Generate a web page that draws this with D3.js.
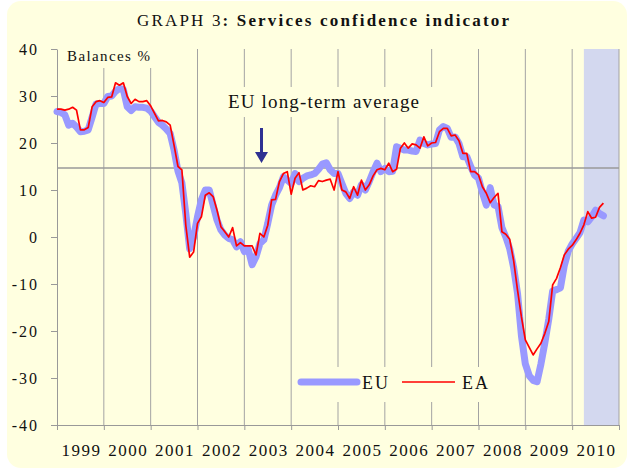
<!DOCTYPE html>
<html>
<head>
<meta charset="utf-8">
<script src="https://cdn.jsdelivr.net/npm/d3@7"></script>
<style>
  html, body { margin: 0; padding: 0; background: #fff; }
  svg { display: block; }
  svg text { font-family: "Liberation Serif", "Times New Roman", Times, serif; }
</style>
</head>
<body>
<script>
// year labels on the x axis (one block of 12 months each)
const years = ["1999", "2000", "2001", "2002", "2003", "2004", "2005", "2006", "2007", "2008", "2009", "2010"];
const yTicks = [-40, -30, -20, -10, 0, 10, 20, 30, 40];

// monthly balances, Jan 1999 .. Sep 2010
const euValues = [
  26.7, 26.5, 26.0, 23.8, 24.2, 23.4, 22.4, 22.5, 22.8, 25.5, 28.3, 28.4,   // 1999
  28.4, 29.9, 30.0, 31.0, 31.6, 31.4, 27.7, 26.9, 27.7, 27.6, 27.6, 27.4,   // 2000
  26.8, 25.6, 24.4, 23.8, 23.0, 22.0, 18.5, 14.0, 11.5, 5.0, -2.5, 0.0,     // 2001
  4.3, 7.9, 10.0, 10.0, 6.8, 3.6, 1.5, 0.4, -0.3, -0.6, -2.1, -1.0,         // 2002
  -3.1, -2.6, -5.9, -4.2, -1.4, -0.6, 2.9, 6.8, 8.9, 10.5, 12.8, 12.1,      // 2003
  11.4, 13.5, 11.8, 12.5, 13.0, 13.2, 13.5, 14.4, 15.5, 15.8, 14.3, 13.5,   // 2004
  13.5, 11.4, 9.3, 8.2, 9.6, 8.9, 11.1, 10.0, 11.8, 13.9, 15.7, 13.9,       // 2005
  14.6, 13.9, 14.0, 19.2, 18.9, 18.5, 18.5, 18.3, 18.2, 20.6, 19.9, 19.6,   // 2006
  19.8, 19.9, 22.8, 23.5, 23.1, 21.2, 21.3, 19.9, 17.1, 17.1, 15.0, 13.2,   // 2007
  12.5, 9.5, 6.8, 10.5, 6.8, 6.5, 2.0, 0.0, -2.5, -6.5, -12.0, -21.0,       // 2008
  -27.0, -29.5, -30.5, -30.8, -27.0, -22.5, -17.5, -11.5, -11.2, -10.8, -6.0, -3.0, // 2009
  -1.5, -0.3, 0.9, 3.6, 3.2, 4.3, 5.7, 5.0, 4.5                             // 2010
];
const eaValues = [
  27.2, 27.2, 27.0, 27.2, 27.6, 27.0, 22.8, 22.8, 23.3, 27.7, 28.8, 29.0,   // 1999
  28.6, 29.7, 29.8, 32.8, 32.3, 32.8, 29.9, 28.4, 29.3, 28.8, 28.8, 29.0,   // 2000
  27.9, 26.3, 24.7, 24.8, 24.5, 23.8, 19.5, 15.0, 14.3, 2.5, -4.3, -3.2,    // 2001
  2.9, 4.3, 8.9, 9.4, 8.6, 5.7, 2.2, 1.1, 0.0, 2.0, -1.9, -1.2,             // 2002
  -1.9, -1.9, -1.9, -3.8, 0.8, 0.0, 2.5, 7.9, 8.0, 11.8, 13.5, 13.9,        // 2003
  9.1, 12.5, 13.7, 10.0, 10.4, 10.9, 10.7, 12.0, 11.8, 12.1, 12.3, 10.0,    // 2004
  13.9, 10.0, 9.6, 8.2, 10.7, 8.9, 12.1, 10.0, 11.1, 13.0, 14.3, 14.6,      // 2005
  14.3, 15.7, 13.9, 14.4, 18.9, 20.0, 18.9, 19.8, 19.6, 18.9, 21.3, 19.4,   // 2006
  20.0, 20.1, 22.4, 23.1, 23.1, 21.5, 21.7, 20.5, 17.8, 17.8, 13.9, 13.9,   // 2007
  13.2, 10.7, 9.3, 7.3, 8.4, 9.3, 1.1, 0.6, -0.5, -5.0, -11.3, -17.0,       // 2008
  -21.9, -23.5, -25.1, -23.8, -22.6, -20.5, -18.0, -10.2, -8.8, -6.5, -3.8, -2.6, // 2009
  -1.8, -0.6, 0.8, 2.6, 5.4, 4.0, 4.2, 6.3, 7.2                             // 2010
];
const longTermAverage = 14.7;
const shadeFrom = 135; // month index (Apr 2010)

const W = 631, H = 470;
const bg = "#FFFFE0";
const grid = "#A3A3A3";

const svg = d3.select("body").append("svg")
    .attr("width", W)
    .attr("height", H);

// rounded background panel
svg.append("rect")
    .attr("x", 7).attr("y", 1)
    .attr("width", 620).attr("height", 467)
    .attr("rx", 14)
    .attr("fill", bg);

const x = d3.scaleLinear().domain([0, years.length * 12]).range([57, 619]);
const y = d3.scaleLinear().domain([-40, 40]).range([425, 49]);

// shaded last part
svg.append("rect")
    .attr("x", x(shadeFrom))
    .attr("y", y(40))
    .attr("width", x(years.length * 12) - x(shadeFrom))
    .attr("height", y(-40) - y(40))
    .attr("fill", "#D3D8EF");

// vertical year gridlines
svg.append("g")
    .selectAll("line")
    .data(d3.range(12, years.length * 12 + 1, 12))
    .enter().append("line")
    .attr("x1", d => x(d)).attr("x2", d => x(d))
    .attr("y1", y(40)).attr("y2", y(-40))
    .attr("stroke", grid)
    .attr("stroke-width", 1);

// boxes behind the texts hide the gridlines
svg.append("rect").attr("x", 58).attr("y", 48).attr("width", 102).attr("height", 20).attr("fill", bg);
svg.append("rect").attr("x", 210).attr("y", 87).attr("width", 230).attr("height", 30).attr("fill", bg);
svg.append("rect").attr("x", 294).attr("y", 367).attr("width", 200).attr("height", 35).attr("fill", bg);

// long-term average
svg.append("line")
    .attr("x1", x(0)).attr("x2", x(years.length * 12))
    .attr("y1", y(longTermAverage)).attr("y2", y(longTermAverage))
    .attr("stroke", "#9A9A9A")
    .attr("stroke-width", 1.5);

// axes
const yAxis = svg.append("g")
    .attr("transform", `translate(${x(0)},0)`)
    .call(d3.axisLeft(y).tickValues(yTicks).tickSize(6).tickSizeOuter(0).tickPadding(12).tickFormat(d => String(d)))
    .attr("font-family", null)
    .attr("font-size", 16);
yAxis.select(".domain").attr("stroke", "#999");
yAxis.selectAll(".tick line").attr("stroke", "#999");
yAxis.selectAll(".tick text").attr("fill", "#111").attr("letter-spacing", "2px");

const xAxis = svg.append("g")
    .attr("transform", `translate(0,${y(-40)})`)
    .call(d3.axisBottom(x).tickValues(d3.range(0, years.length * 12 + 1, 12)).tickSize(5).tickSizeOuter(0).tickFormat(""));
xAxis.select(".domain").attr("stroke", "#999");
xAxis.selectAll(".tick line").attr("stroke", "#999");

svg.append("g")
    .selectAll("text")
    .data(years)
    .enter().append("text")
    .attr("x", (d, i) => x(i * 12 + 6) + 1)
    .attr("y", 456)
    .attr("text-anchor", "middle")
    .attr("font-size", 17)
    .attr("letter-spacing", "1.5px")
    .attr("fill", "#111")
    .text(d => d);

// series
const line = d3.line()
    .x((d, i) => x(i))
    .y(d => y(d));

svg.append("path")
    .datum(euValues)
    .attr("d", line)
    .attr("fill", "none")
    .attr("stroke", "#9999FF")
    .attr("stroke-width", 7)
    .attr("stroke-linejoin", "round")
    .attr("stroke-linecap", "round");

svg.append("path")
    .datum(eaValues)
    .attr("d", line)
    .attr("fill", "none")
    .attr("stroke", "#FF0000")
    .attr("stroke-width", 1.7)
    .attr("stroke-linejoin", "round");

// title
const title = svg.append("text")
    .attr("x", 137).attr("y", 26)
    .attr("font-size", 17)
    .attr("fill", "#111")
    .attr("textLength", 372)
    .attr("lengthAdjust", "spacing");
title.append("tspan").text("GRAPH 3");
title.append("tspan").attr("font-weight", "bold").text(": Services confidence indicator");

svg.append("text")
    .attr("x", 67).attr("y", 61)
    .attr("font-size", 15)
    .attr("fill", "#111")
    .attr("textLength", 83)
    .attr("lengthAdjust", "spacing")
    .text("Balances %");

svg.append("text")
    .attr("x", 228).attr("y", 108)
    .attr("font-size", 19)
    .attr("fill", "#111")
    .attr("textLength", 191)
    .attr("lengthAdjust", "spacing")
    .text("EU long-term average");

// arrow pointing at the average line
svg.append("path")
    .attr("d", "M260,128 L263,128 L263,152 L268,152 L261.5,163 L255,152 L260,152 Z")
    .attr("fill", "#2E3192");

// legend
svg.append("line")
    .attr("x1", 301).attr("x2", 357).attr("y1", 382).attr("y2", 382)
    .attr("stroke", "#9999FF").attr("stroke-width", 7).attr("stroke-linecap", "round");
svg.append("text")
    .attr("x", 362).attr("y", 389)
    .attr("font-size", 18).attr("letter-spacing", "2px").attr("fill", "#111")
    .text("EU");
svg.append("line")
    .attr("x1", 402).attr("x2", 455).attr("y1", 382).attr("y2", 382)
    .attr("stroke", "#FF0000").attr("stroke-width", 1.7);
svg.append("text")
    .attr("x", 462).attr("y", 389)
    .attr("font-size", 18).attr("letter-spacing", "2px").attr("fill", "#111")
    .text("EA");
</script>
</body>
</html>
